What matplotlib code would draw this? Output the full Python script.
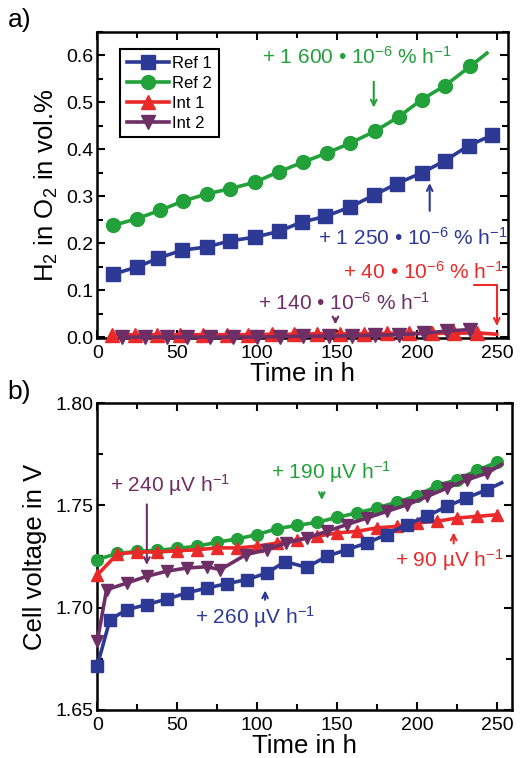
import matplotlib
matplotlib.use("Agg")
import matplotlib.pyplot as plt
from matplotlib.ticker import MultipleLocator

plt.rcParams['font.family'] = ['Liberation Sans', 'DejaVu Sans']
plt.rcParams['mathtext.fontset'] = 'custom'
plt.rcParams['mathtext.rm'] = 'Liberation Sans'
plt.rcParams['mathtext.it'] = 'Liberation Sans:italic'
plt.rcParams['mathtext.bf'] = 'Liberation Sans:bold'

AZUL = "#2C3A96"
VERDE = "#22A03A"
VERMELHO = "#EA2A2A"
ROXO = "#6D2F66"

# painel a) H2 em O2 (vol.%)
t_ref1_a = [10, 24.6, 38.2, 52.8, 68.5, 83.1, 98.7, 113.4, 128, 142.6, 158.2, 172.9, 187.5, 203.1, 217.7, 232.4, 247]
h2_ref1 = [0.134, 0.149, 0.168, 0.185, 0.192, 0.205, 0.213, 0.225, 0.245, 0.257, 0.277, 0.302, 0.327, 0.350, 0.376, 0.408, 0.430]
t_ref2_a = [10, 24.6, 39.2, 53.9, 68.5, 83.1, 98.7, 113.4, 129, 143.6, 158.2, 173.9, 188.5, 203, 217.7, 233.4, 243.8]
h2_ref2 = [0.238, 0.252, 0.270, 0.290, 0.305, 0.316, 0.330, 0.352, 0.373, 0.392, 0.413, 0.439, 0.469, 0.506, 0.536, 0.577, 0.605]
t_int1_a = [9, 23.6, 37.2, 51.8, 66.4, 81, 94.6, 109.2, 122.8, 137.4, 152, 166.6, 181.2, 194.8, 209.4, 223, 237.6, 250]
h2_int1 = [0.005, 0.005, 0.005, 0.005, 0.005, 0.005, 0.005, 0.006, 0.006, 0.007, 0.007, 0.007, 0.008, 0.008, 0.008, 0.008, 0.009, 0.006]
t_int2_a = [15.2, 29.9, 43.4, 56, 70.6, 85.2, 99.8, 114.4, 129, 144.7, 159.3, 173.9, 188.5, 204.2, 218.8, 233.4]
h2_int2 = [0.0, 0.0, 0.0, 0.0, 0.0, 0.0, 0.0, 0.001, 0.002, 0.002, 0.003, 0.004, 0.005, 0.008, 0.013, 0.016]

# painel b) tensao da celula (V)
t_b = [0, 12.5, 25, 37.5, 50, 62.5, 75, 87.5, 100, 112.5, 125, 137.5, 150, 162.5, 175, 187.5, 200, 212.5, 225, 237.5, 250]
v_ref2 = [1.7235, 1.7265, 1.7275, 1.728, 1.729, 1.730, 1.732, 1.7336, 1.7357, 1.7386, 1.7402, 1.7417, 1.7441, 1.7463, 1.7487, 1.7516, 1.7547, 1.7596, 1.7625, 1.7671, 1.771]
v_int1 = [1.716, 1.7262, 1.7272, 1.7272, 1.7278, 1.7283, 1.7292, 1.7292, 1.730, 1.7316, 1.7332, 1.7349, 1.7365, 1.7373, 1.739, 1.7397, 1.7414, 1.7422, 1.7438, 1.7446, 1.7454]
t_ref1_b = [0, 7.9, 18.4, 30.9, 43.4, 56, 68.5, 81, 93.5, 106, 117.5, 131, 143.6, 156, 168.7, 181, 193.7, 206, 218.8, 231, 244, 253]
v_ref1 = [1.6717, 1.6941, 1.699, 1.7015, 1.7042, 1.7072, 1.7096, 1.7117, 1.7137, 1.7169, 1.7225, 1.7197, 1.7251, 1.7283, 1.7316, 1.7357, 1.7406, 1.7446, 1.7495, 1.7536, 1.7577, 1.761]
t_int2_b = [0, 5.8, 18.4, 30.9, 43.4, 56, 68.5, 77, 93, 106, 118, 131, 143.6, 156, 168.8, 181, 194, 206.6, 219, 231.6, 244, 253]
v_int2 = [1.6836, 1.7088, 1.712, 1.7153, 1.7178, 1.7194, 1.720, 1.7186, 1.7259, 1.7283, 1.7316, 1.734, 1.7373, 1.7406, 1.7438, 1.747, 1.7503, 1.7544, 1.7585, 1.7625, 1.7658, 1.770]

fig = plt.figure(figsize=(5.2, 7.58), dpi=100)
ax1 = fig.add_axes([97.3 / 520, 1 - 338 / 758, (508 - 97.3) / 520, 306 / 758])
ax2 = fig.add_axes([97.3 / 520, 1 - 710 / 758, (512 - 97.3) / 520, 307 / 758])

lw = 2.6
ax1.plot(t_ref1_a, h2_ref1, color=AZUL, lw=lw, marker='s', ms=9.5, clip_on=False, label='Ref 1', zorder=3)
ax1.plot(t_ref2_a, h2_ref2, color=VERDE, lw=lw, marker='o', ms=10, markevery=list(range(len(t_ref2_a) - 1)),
         clip_on=False, label='Ref 2', zorder=3)
ax1.plot(t_int1_a, h2_int1, color=VERMELHO, lw=lw, marker='^', ms=10, markevery=list(range(len(t_int1_a) - 1)),
         clip_on=False, label='Int 1', zorder=4)
ax1.plot(t_int2_a, h2_int2, color=ROXO, lw=lw, marker='v', ms=10, clip_on=False, label='Int 2', zorder=5)

ax2.plot(t_b, v_ref2, color=VERDE, lw=lw, marker='o', ms=8.5, clip_on=False, zorder=3)
ax2.plot(t_b, v_int1, color=VERMELHO, lw=lw, marker='^', ms=9, clip_on=False, zorder=4)
ax2.plot(t_ref1_b, v_ref1, color=AZUL, lw=lw, marker='s', ms=8, markevery=list(range(len(t_ref1_b) - 1)),
         clip_on=False, zorder=5)
ax2.plot(t_int2_b, v_int2, color=ROXO, lw=lw, marker='v', ms=9, markevery=list(range(len(t_int2_b) - 1)),
         clip_on=False, zorder=6)

ax1.set_xlim(0, 257)
ax1.set_ylim(-0.002, 0.65)
ax2.set_xlim(0, 259.5)
ax2.set_ylim(1.65, 1.80)

for ax in (ax1, ax2):
    ax.xaxis.set_major_locator(MultipleLocator(50))
    ax.xaxis.set_minor_locator(MultipleLocator(25))
    ax.tick_params(which='both', direction='in', top=True, right=True, width=1.5, labelsize=14)
    ax.tick_params(axis='x', pad=5)
    ax.tick_params(axis='y', pad=3)
    ax.tick_params(which='major', length=6)
    ax.tick_params(which='minor', length=4)
    for s in ax.spines.values():
        s.set_linewidth(1.8)
    ax.set_xlabel('Time in h', fontsize=18.5, labelpad=0)

ax1.yaxis.set_major_locator(MultipleLocator(0.1))
ax1.yaxis.set_minor_locator(MultipleLocator(0.05))
ax1.yaxis.set_major_formatter(plt.FormatStrFormatter('%.1f'))
ax2.yaxis.set_major_locator(MultipleLocator(0.05))
ax2.yaxis.set_minor_locator(MultipleLocator(0.025))
ax2.yaxis.set_major_formatter(plt.FormatStrFormatter('%.2f'))

ax1.set_ylabel('H$_2$ in O$_2$ in vol.%', fontsize=18.5, labelpad=4)
ax2.set_ylabel('Cell voltage in V', fontsize=18.5, labelpad=6)

leg = ax1.legend(loc='upper left', bbox_to_anchor=(0.056, 0.944), borderaxespad=0, fontsize=12,
                 fancybox=False, edgecolor='black', handlelength=2.5, labelspacing=0.3,
                 handletextpad=0.2, borderpad=0.4, framealpha=1)
leg.get_frame().set_linewidth(1.5)

fs = 15
seta = dict(arrowstyle='->', lw=1.5)

# anotacoes painel a
ax1.text(103, 0.596, '+ 1 600 • 10$^{-6}$ % h$^{-1}$', color=VERDE, fontsize=fs, va='center')
ax1.annotate('', xy=(173, 0.483), xytext=(173, 0.55), arrowprops=dict(seta, color=VERDE))
ax1.text(138, 0.211, '+ 1 250 • 10$^{-6}$ % h$^{-1}$', color=AZUL, fontsize=fs, va='center')
ax1.annotate('', xy=(208, 0.334), xytext=(208, 0.263), arrowprops=dict(seta, color=AZUL))
ax1.text(153.5, 0.138, '+ 40 • 10$^{-6}$ % h$^{-1}$', color=VERMELHO, fontsize=fs, va='center')
ax1.annotate('', xy=(250, 0.018), xytext=(234, 0.110),
             arrowprops=dict(seta, color=VERMELHO, connectionstyle='angle,angleA=0,angleB=90,rad=0'))
ax1.text(100.4, 0.072, '+ 140 • 10$^{-6}$ % h$^{-1}$', color=ROXO, fontsize=fs, va='center')
ax1.annotate('', xy=(149, 0.021), xytext=(149, 0.046), arrowprops=dict(seta, color=ROXO))

# anotacoes painel b
ax2.text(8, 1.760, '+ 240 µV h$^{-1}$', color=ROXO, fontsize=fs, va='center')
ax2.annotate('', xy=(31, 1.7195), xytext=(31, 1.7518), arrowprops=dict(seta, color=ROXO))
ax2.text(109, 1.7665, '+ 190 µV h$^{-1}$', color=VERDE, fontsize=fs, va='center')
ax2.annotate('', xy=(140.5, 1.7512), xytext=(140.5, 1.7577), arrowprops=dict(seta, color=VERDE))
ax2.text(61, 1.6953, '+ 260 µV h$^{-1}$', color=AZUL, fontsize=fs, va='center')
ax2.annotate('', xy=(105, 1.7098), xytext=(105, 1.7025), arrowprops=dict(seta, color=AZUL))
ax2.text(186, 1.7234, '+ 90 µV h$^{-1}$', color=VERMELHO, fontsize=fs, va='center')
ax2.annotate('', xy=(223, 1.7381), xytext=(223, 1.730), arrowprops=dict(seta, color=VERMELHO))

fig.text(0.015, 0.99, 'a)', fontsize=19, va='top')
fig.text(0.015, 0.499, 'b)', fontsize=19, va='top')

fig.savefig('out.png', dpi=100)
